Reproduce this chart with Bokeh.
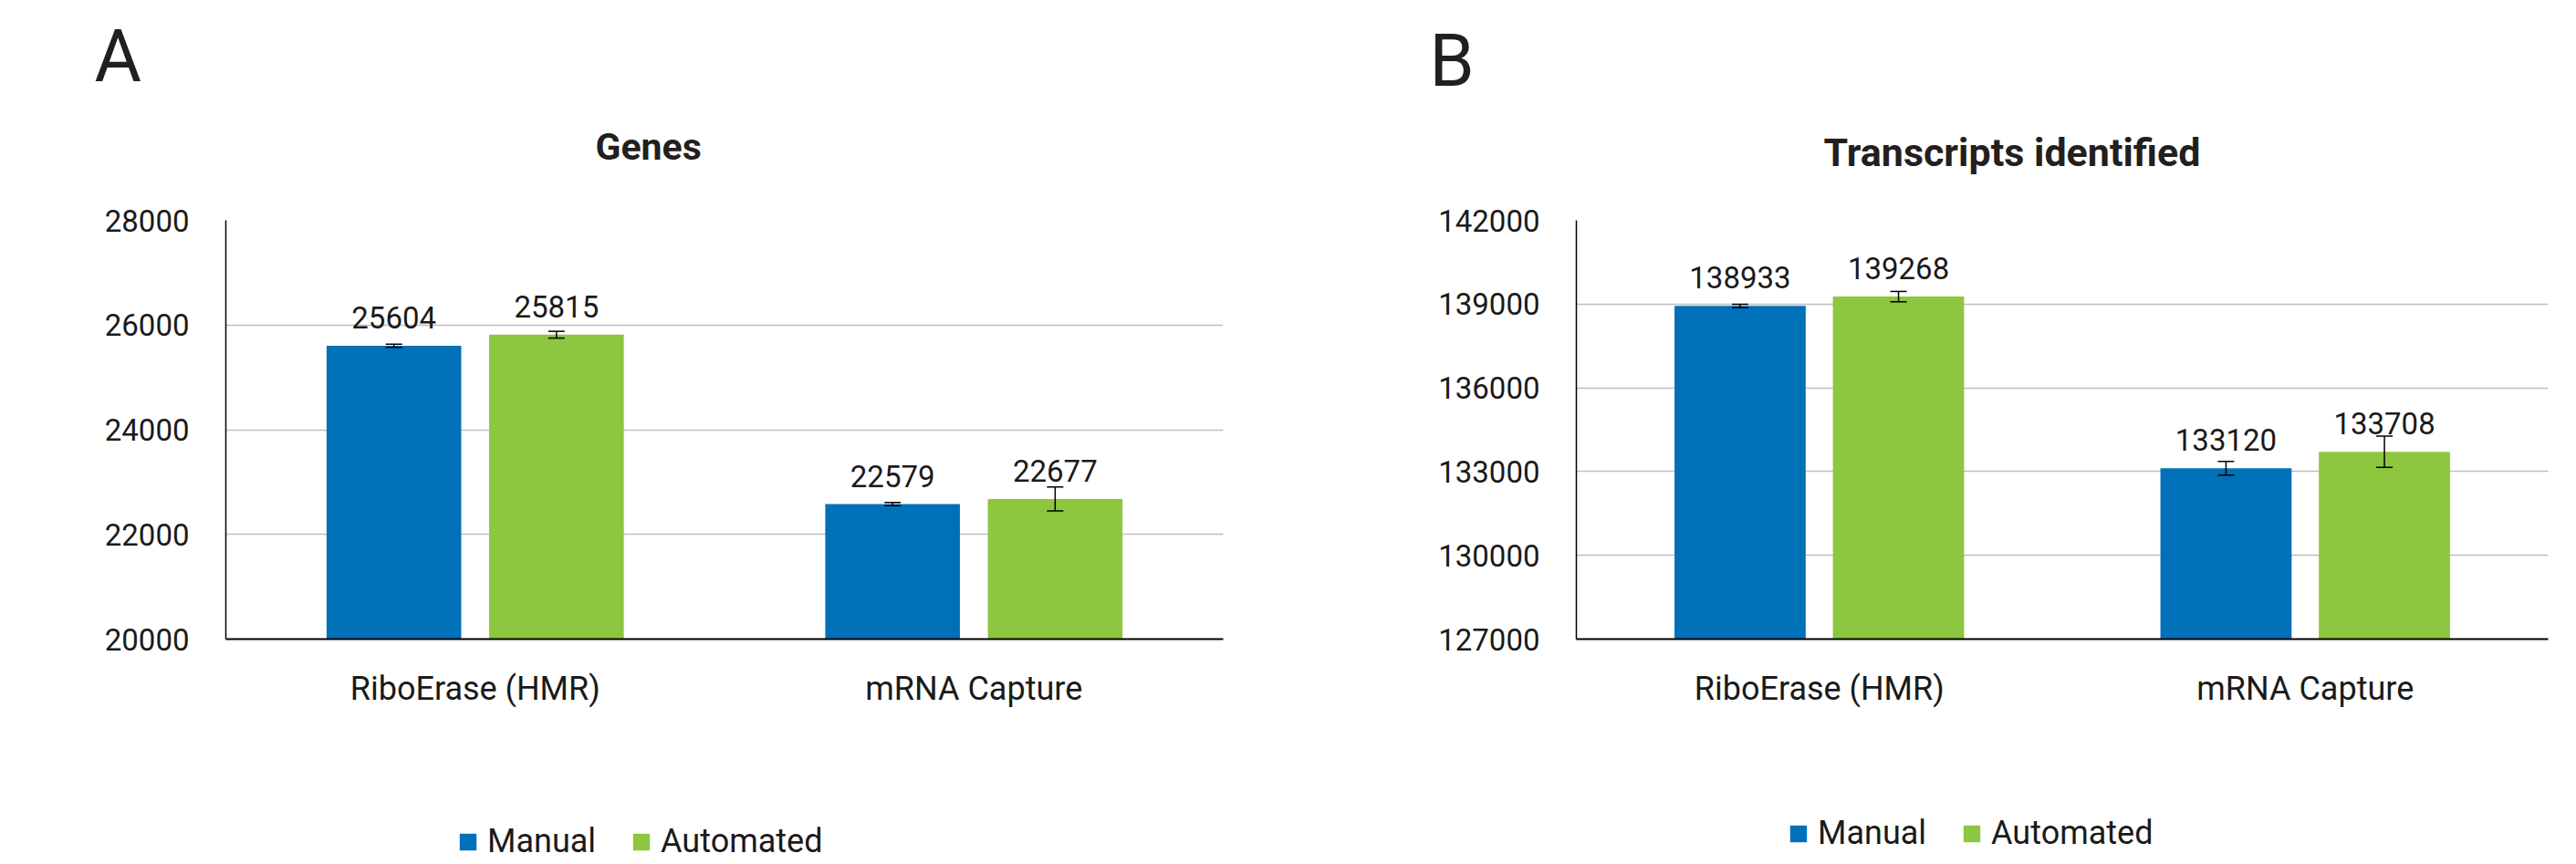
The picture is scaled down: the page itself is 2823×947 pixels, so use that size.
from bokeh.plotting import figure
from bokeh.models import (ColumnDataSource, FactorRange, Range1d, FixedTicker, Whisker,
                          TeeHead, Title, Legend, LegendItem, BasicTickFormatter)
from bokeh.transform import dodge
from bokeh.layouts import row, column
from bokeh.embed import file_html
from bokeh.resources import INLINE
from bokeh.core.properties import value

# ---------------- data ----------------
categories = ["RiboErase (HMR)", "mRNA Capture"]
series = ["Manual", "Automated"]

genes_manual = [25604, 22579]
genes_automated = [25815, 22677]
genes_manual_err = [30, 30]
genes_automated_err = [65, 230]
genes_ticks = [20000, 22000, 24000, 26000, 28000]

transcripts_manual = [138933, 133120]
transcripts_automated = [139268, 133708]
transcripts_manual_err = [60, 245]
transcripts_automated_err = [185, 560]
transcripts_ticks = [127000, 130000, 133000, 136000, 139000, 142000]

BLUE = "#0070B9"
GREEN = "#8DC63F"
TEXT = "#1A1A1A"
FONT = "Roboto"
H_MAIN = 800
H_LEG = 145


def make_panel(letter, title, manual, automated, m_err, a_err, ticks, geom):
    src = ColumnDataSource(dict(
        cat=categories,
        manual=manual, automated=automated,
        m_lo=[v - e for v, e in zip(manual, m_err)],
        m_hi=[v + e for v, e in zip(manual, m_err)],
        a_lo=[v - e for v, e in zip(automated, a_err)],
        a_hi=[v + e for v, e in zip(automated, a_err)],
        m_lab=[str(v) for v in manual],
        a_lab=[str(v) for v in automated],
    ))
    p = figure(x_range=FactorRange(*categories), y_range=Range1d(ticks[0], ticks[-1]),
               width=geom["width"], height=H_MAIN, output_backend="svg", toolbar_location=None,
               min_border_left=geom["left"], min_border_right=geom["right"],
               min_border_top=geom["top"], min_border_bottom=geom["bottom"])
    p.outline_line_color = None
    p.background_fill_color = "white"
    p.border_fill_color = "white"
    p.x_range.range_padding = 0

    p.xgrid.grid_line_color = None
    p.ygrid.ticker = FixedTicker(ticks=ticks)
    p.ygrid.grid_line_color = "#BEBEBE"
    p.ygrid.grid_line_width = 1.5

    p.yaxis.ticker = FixedTicker(ticks=ticks)
    p.yaxis.formatter = BasicTickFormatter(use_scientific=False)
    p.yaxis.major_tick_line_color = None
    p.yaxis.minor_tick_line_color = None
    p.yaxis.major_tick_out = 0
    p.yaxis.major_tick_in = 0
    p.yaxis.axis_line_color = "black"
    p.yaxis.axis_line_width = 1.5
    p.yaxis.major_label_standoff = 40
    p.yaxis.major_label_text_font = FONT
    p.yaxis.major_label_text_font_size = "33px"
    p.yaxis.major_label_text_color = TEXT

    p.xaxis.major_tick_line_color = None
    p.xaxis.minor_tick_line_color = None
    p.xaxis.major_tick_out = 0
    p.xaxis.major_tick_in = 0
    p.xaxis.axis_line_color = "black"
    p.xaxis.axis_line_width = 2
    p.xaxis.major_label_standoff = 33
    p.xaxis.major_label_text_font = FONT
    p.xaxis.major_label_text_font_size = "36px"
    p.xaxis.major_label_text_color = TEXT

    off = 0.163
    p.vbar(x=dodge("cat", -off, range=p.x_range), top="manual", bottom=ticks[0], width=0.27,
           source=src, fill_color=BLUE, line_color=None)
    p.vbar(x=dodge("cat", off, range=p.x_range), top="automated", bottom=ticks[0], width=0.27,
           source=src, fill_color=GREEN, line_color=None)

    for base, lo, hi in ((-off, "m_lo", "m_hi"), (off, "a_lo", "a_hi")):
        w = Whisker(base=dodge("cat", base, range=p.x_range), lower=lo, upper=hi, source=src,
                    line_color="black", line_width=1.5,
                    upper_head=TeeHead(size=18, line_width=1.5, line_color="black"),
                    lower_head=TeeHead(size=18, line_width=1.5, line_color="black"),
                    level="overlay")
        p.add_layout(w)

    for base, col, lab in ((-off, "manual", "m_lab"), (off, "automated", "a_lab")):
        p.text(x=dodge("cat", base, range=p.x_range), y=col, text=lab, source=src,
               text_align="center", text_baseline="alphabetic", y_offset=-31,
               text_font=value(FONT), text_font_size="33px", text_color=TEXT)

    # titles stacked in the "above" panel: spacer (closest to frame), chart title, panel letter
    p.add_layout(Title(text=" ", text_font_size="1px", standoff=geom["spacer"]), "above")
    p.add_layout(Title(text=title, align="left", offset=geom["title_off"], standoff=29,
                       text_font=FONT, text_font_size=geom["title_size"], text_font_style="bold",
                       text_color="#231F20"), "above")
    p.add_layout(Title(text=letter, align="left", offset=geom["letter_off"], standoff=25,
                       text_font=FONT, text_font_size="79px", text_font_style="normal",
                       text_color="#231F20"), "above")
    return p


geomA = dict(width=1460, left=247, right=120, top=241, bottom=H_MAIN - 702,
             spacer=39, title_off=405, title_size="41px", letter_off=-144)
geomB = dict(width=1355, left=267, right=23, top=234, bottom=H_MAIN - 700,
             spacer=32, title_off=271, title_size="43px", letter_off=-161)

pA = make_panel("A", "Genes", genes_manual, genes_automated, genes_manual_err, genes_automated_err,
                genes_ticks, geomA)
pB = make_panel("B", "Transcripts identified", transcripts_manual, transcripts_automated,
                transcripts_manual_err, transcripts_automated_err, transcripts_ticks, geomB)

# ---------------- legend strip (one legend under each panel) ----------------
W_ALL = geomA["width"] + geomB["width"]
leg = figure(width=W_ALL, height=H_LEG, x_range=Range1d(0, 1), y_range=Range1d(0, 1),
             x_axis_type=None, y_axis_type=None, output_backend="svg", toolbar_location=None,
             min_border=0, min_border_left=0, min_border_right=0, min_border_top=0,
             min_border_bottom=0)
leg.outline_line_color = None
leg.grid.grid_line_color = None
# zero-size swatch renderers: they only supply the legend glyph colours
swatch_m = leg.vbar(x=[0.5], top=[0], bottom=[0], width=0, fill_color=BLUE, line_color=None)
swatch_a = leg.vbar(x=[0.5], top=[0], bottom=[0], width=0, fill_color=GREEN, line_color=None)

for loc in ((501, 2), (1959, 11)):
    legend = Legend(items=[LegendItem(label=series[0], renderers=[swatch_m]),
                           LegendItem(label=series[1], renderers=[swatch_a])],
                    orientation="horizontal", location=loc,
                    border_line_color=None, background_fill_alpha=0, padding=0, margin=0,
                    spacing=38, label_standoff=10, glyph_width=23, glyph_height=23,
                    label_text_font=FONT, label_text_font_size="36px", label_text_color=TEXT)
    leg.add_layout(legend)

layout = column(row(pA, pB, spacing=0), leg, spacing=0)
open("out.html", "w").write(file_html(layout, INLINE))
